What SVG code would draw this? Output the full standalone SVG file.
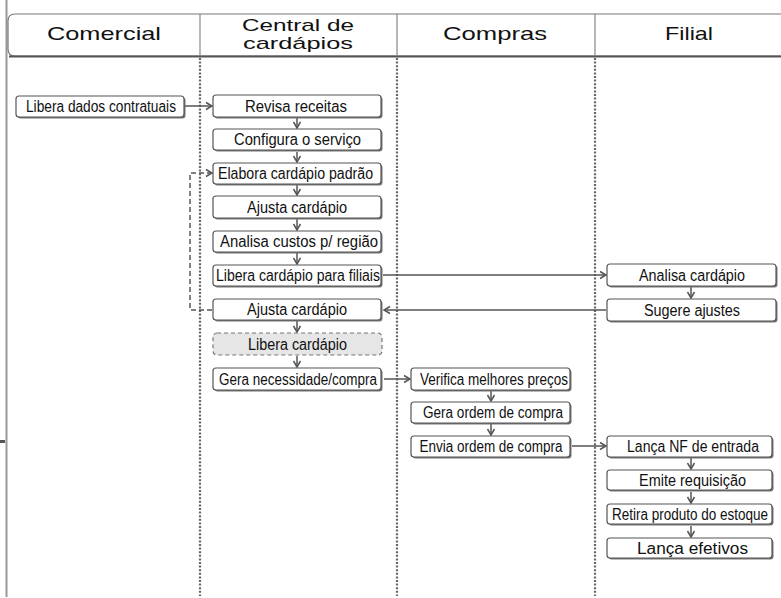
<svg xmlns="http://www.w3.org/2000/svg" width="781" height="598" viewBox="0 0 781 598">
<style>
.hdr{font-family:"Liberation Sans",Arial,sans-serif;font-size:19px;fill:#111;text-anchor:middle}
.hdr2{font-family:"Liberation Sans",Arial,sans-serif;font-size:17px;fill:#111;text-anchor:middle}
.lane{stroke:#666;stroke-width:2.2;stroke-dasharray:2 1.6;fill:none}
.box{fill:#fff;stroke:#555;stroke-width:1.2}
.sh{fill:#777}
.dbox{fill:#e6e6e6;stroke:#777;stroke-width:1.2;stroke-dasharray:4 3}
.t{font-family:"Liberation Sans",Arial,sans-serif;font-size:16px;fill:#111;text-anchor:middle}
.c{stroke:#555;stroke-width:1.5;fill:none}
.cd{stroke:#555;stroke-width:1.5;fill:none;stroke-dasharray:5 3}
</style>
<defs>
<marker id="a" markerWidth="10" markerHeight="10" refX="7" refY="5" orient="auto" markerUnits="userSpaceOnUse">
<path d="M1,1.5 L7,5 L1,8.5" fill="none" stroke="#555" stroke-width="1.5"/>
</marker>
</defs>
<rect width="781" height="598" fill="#fff"/>
<line x1="6.5" y1="0" x2="6.5" y2="597" stroke="#999" stroke-width="2"/>
<rect x="0" y="440" width="5" height="3" fill="#555"/>
<g id="header">
<path d="M782,14 H15 Q8,14 8,21 V49 Q8,56 15,56 H782" fill="#fff" stroke="#777" stroke-width="1.2"/>
<line x1="9" y1="56.5" x2="781" y2="56.5" stroke="#555" stroke-width="2.2"/>
<line x1="200" y1="14" x2="200" y2="56" stroke="#888" stroke-width="1.2"/>
<line x1="397" y1="14" x2="397" y2="56" stroke="#888" stroke-width="1.2"/>
<line x1="595" y1="14" x2="595" y2="56" stroke="#888" stroke-width="1.2"/>
<text class="hdr" x="104" y="39.5" textLength="114" lengthAdjust="spacingAndGlyphs">Comercial</text>
<text class="hdr2" x="298" y="31" textLength="112" lengthAdjust="spacingAndGlyphs">Central de</text>
<text class="hdr2" x="298" y="49" textLength="110" lengthAdjust="spacingAndGlyphs">cardápios</text>
<text class="hdr" x="495" y="39.5" textLength="104" lengthAdjust="spacingAndGlyphs">Compras</text>
<text class="hdr" x="689" y="39.5" textLength="48" lengthAdjust="spacingAndGlyphs">Filial</text>
</g>
<g id="lanes">
<line class="lane" x1="200" y1="58" x2="200" y2="596"/>
<line class="lane" x1="397" y1="58" x2="397" y2="596"/>
<line class="lane" x1="595" y1="58" x2="595" y2="596"/>
</g>
<g id="connectors">
<line class="c" x1="185" y1="106" x2="212" y2="106" marker-end="url(#a)"/>
<line class="c" x1="297" y1="118" x2="297" y2="128" marker-end="url(#a)"/>
<line class="c" x1="297" y1="152" x2="297" y2="162" marker-end="url(#a)"/>
<line class="c" x1="297" y1="185" x2="297" y2="195" marker-end="url(#a)"/>
<line class="c" x1="297" y1="219" x2="297" y2="230" marker-end="url(#a)"/>
<line class="c" x1="297" y1="253" x2="297" y2="264" marker-end="url(#a)"/>
<line class="c" x1="383" y1="275" x2="606" y2="275" marker-end="url(#a)"/>
<line class="c" x1="691" y1="287" x2="691" y2="298" marker-end="url(#a)"/>
<line class="c" x1="606" y1="310" x2="384" y2="310" marker-end="url(#a)"/>
<polyline class="cd" points="212,310 190,310 190,173 212,173" marker-end="url(#a)"/>
<line class="c" x1="297" y1="321" x2="297" y2="332" marker-end="url(#a)"/>
<line class="c" x1="297" y1="356" x2="297" y2="367" marker-end="url(#a)"/>
<line class="c" x1="384" y1="379" x2="410" y2="379" marker-end="url(#a)"/>
<line class="c" x1="491" y1="391" x2="491" y2="401" marker-end="url(#a)"/>
<line class="c" x1="491" y1="424" x2="491" y2="435" marker-end="url(#a)"/>
<line class="c" x1="572" y1="446" x2="606" y2="446" marker-end="url(#a)"/>
<line class="c" x1="691" y1="458" x2="691" y2="469" marker-end="url(#a)"/>
<line class="c" x1="691" y1="492" x2="691" y2="503" marker-end="url(#a)"/>
<line class="c" x1="691" y1="526" x2="691" y2="537" marker-end="url(#a)"/>
</g>
<g id="n1"><rect class="sh" x="17.5" y="97.5" width="168" height="21" rx="3"/><rect class="box" x="16" y="96" width="168" height="21" rx="3"/><text class="t" x="101" y="112.3" textLength="150" lengthAdjust="spacingAndGlyphs">Libera dados contratuais</text></g>
<g id="n2"><rect class="sh" x="214.5" y="96.5" width="168" height="22" rx="3"/><rect class="box" x="213" y="95" width="168" height="22" rx="3"/><text class="t" x="296" y="111.8" textLength="102" lengthAdjust="spacingAndGlyphs">Revisa receitas</text></g>
<g id="n3"><rect class="sh" x="214.5" y="130.5" width="168" height="21" rx="3"/><rect class="box" x="213" y="129" width="168" height="21" rx="3"/><text class="t" x="297.5" y="145.3" textLength="127" lengthAdjust="spacingAndGlyphs">Configura o serviço</text></g>
<g id="n4"><rect class="sh" x="214.5" y="164.5" width="168" height="21" rx="3"/><rect class="box" x="213" y="163" width="168" height="21" rx="3"/><text class="t" x="295.5" y="179.3" textLength="155" lengthAdjust="spacingAndGlyphs">Elabora cardápio padrão</text></g>
<g id="n5"><rect class="sh" x="214.5" y="197.5" width="168" height="22" rx="3"/><rect class="box" x="213" y="196" width="168" height="22" rx="3"/><text class="t" x="297" y="212.8" textLength="100" lengthAdjust="spacingAndGlyphs">Ajusta cardápio</text></g>
<g id="n6"><rect class="sh" x="214.5" y="232.5" width="168" height="21" rx="3"/><rect class="box" x="213" y="231" width="168" height="21" rx="3"/><text class="t" x="299" y="247.3" textLength="158" lengthAdjust="spacingAndGlyphs">Analisa custos p/ região</text></g>
<g id="n7"><rect class="sh" x="214.5" y="266.5" width="168" height="21" rx="3"/><rect class="box" x="213" y="265" width="168" height="21" rx="3"/><text class="t" x="298" y="281.3" textLength="164" lengthAdjust="spacingAndGlyphs">Libera cardápio para filiais</text></g>
<g id="n8"><rect class="sh" x="214.5" y="300.5" width="168" height="21" rx="3"/><rect class="box" x="213" y="299" width="168" height="21" rx="3"/><text class="t" x="297" y="315.3" textLength="100" lengthAdjust="spacingAndGlyphs">Ajusta cardápio</text></g>
<g id="n9"><rect class="dbox" x="213" y="333" width="169" height="22" rx="4"/><text class="t" x="297.5" y="349.8" textLength="99" lengthAdjust="spacingAndGlyphs">Libera cardápio</text></g>
<g id="n10"><rect class="sh" x="214.5" y="369.5" width="168" height="22" rx="3"/><rect class="box" x="213" y="368" width="168" height="22" rx="3"/><text class="t" x="298" y="384.8" textLength="158" lengthAdjust="spacingAndGlyphs">Gera necessidade/compra</text></g>
<g id="n11"><rect class="sh" x="412.5" y="369.5" width="159" height="22" rx="3"/><rect class="box" x="411" y="368" width="159" height="22" rx="3"/><text class="t" x="494" y="384.8" textLength="148" lengthAdjust="spacingAndGlyphs">Verifica melhores preços</text></g>
<g id="n12"><rect class="sh" x="412.5" y="403.5" width="159" height="21" rx="3"/><rect class="box" x="411" y="402" width="159" height="21" rx="3"/><text class="t" x="493" y="418.3" textLength="140" lengthAdjust="spacingAndGlyphs">Gera ordem de compra</text></g>
<g id="n13"><rect class="sh" x="412.5" y="437.5" width="159" height="21" rx="3"/><rect class="box" x="411" y="436" width="159" height="21" rx="3"/><text class="t" x="491" y="452.3" textLength="143" lengthAdjust="spacingAndGlyphs">Envia ordem de compra</text></g>
<g id="n14"><rect class="sh" x="608.5" y="265.5" width="169" height="22" rx="3"/><rect class="box" x="607" y="264" width="169" height="22" rx="3"/><text class="t" x="692" y="280.8" textLength="106" lengthAdjust="spacingAndGlyphs">Analisa cardápio</text></g>
<g id="n15"><rect class="sh" x="608.5" y="300.5" width="169" height="22" rx="3"/><rect class="box" x="607" y="299" width="169" height="22" rx="3"/><text class="t" x="692" y="315.8" textLength="96" lengthAdjust="spacingAndGlyphs">Sugere ajustes</text></g>
<g id="n16"><rect class="sh" x="608.5" y="437.5" width="165" height="21" rx="3"/><rect class="box" x="607" y="436" width="165" height="21" rx="3"/><text class="t" x="693" y="452.3" textLength="132" lengthAdjust="spacingAndGlyphs">Lança NF de entrada</text></g>
<g id="n17"><rect class="sh" x="608.5" y="471.5" width="165" height="20" rx="3"/><rect class="box" x="607" y="470" width="165" height="20" rx="3"/><text class="t" x="692.5" y="485.8" textLength="107" lengthAdjust="spacingAndGlyphs">Emite requisição</text></g>
<g id="n18"><rect class="sh" x="608.5" y="505.5" width="165" height="20" rx="3"/><rect class="box" x="607" y="504" width="165" height="20" rx="3"/><text class="t" x="690" y="519.8" textLength="156" lengthAdjust="spacingAndGlyphs">Retira produto do estoque</text></g>
<g id="n19"><rect class="sh" x="608.5" y="539.5" width="165" height="20" rx="3"/><rect class="box" x="607" y="538" width="165" height="20" rx="3"/><text class="t" x="692.5" y="553.8" textLength="111" lengthAdjust="spacingAndGlyphs">Lança efetivos</text></g>
</svg>
